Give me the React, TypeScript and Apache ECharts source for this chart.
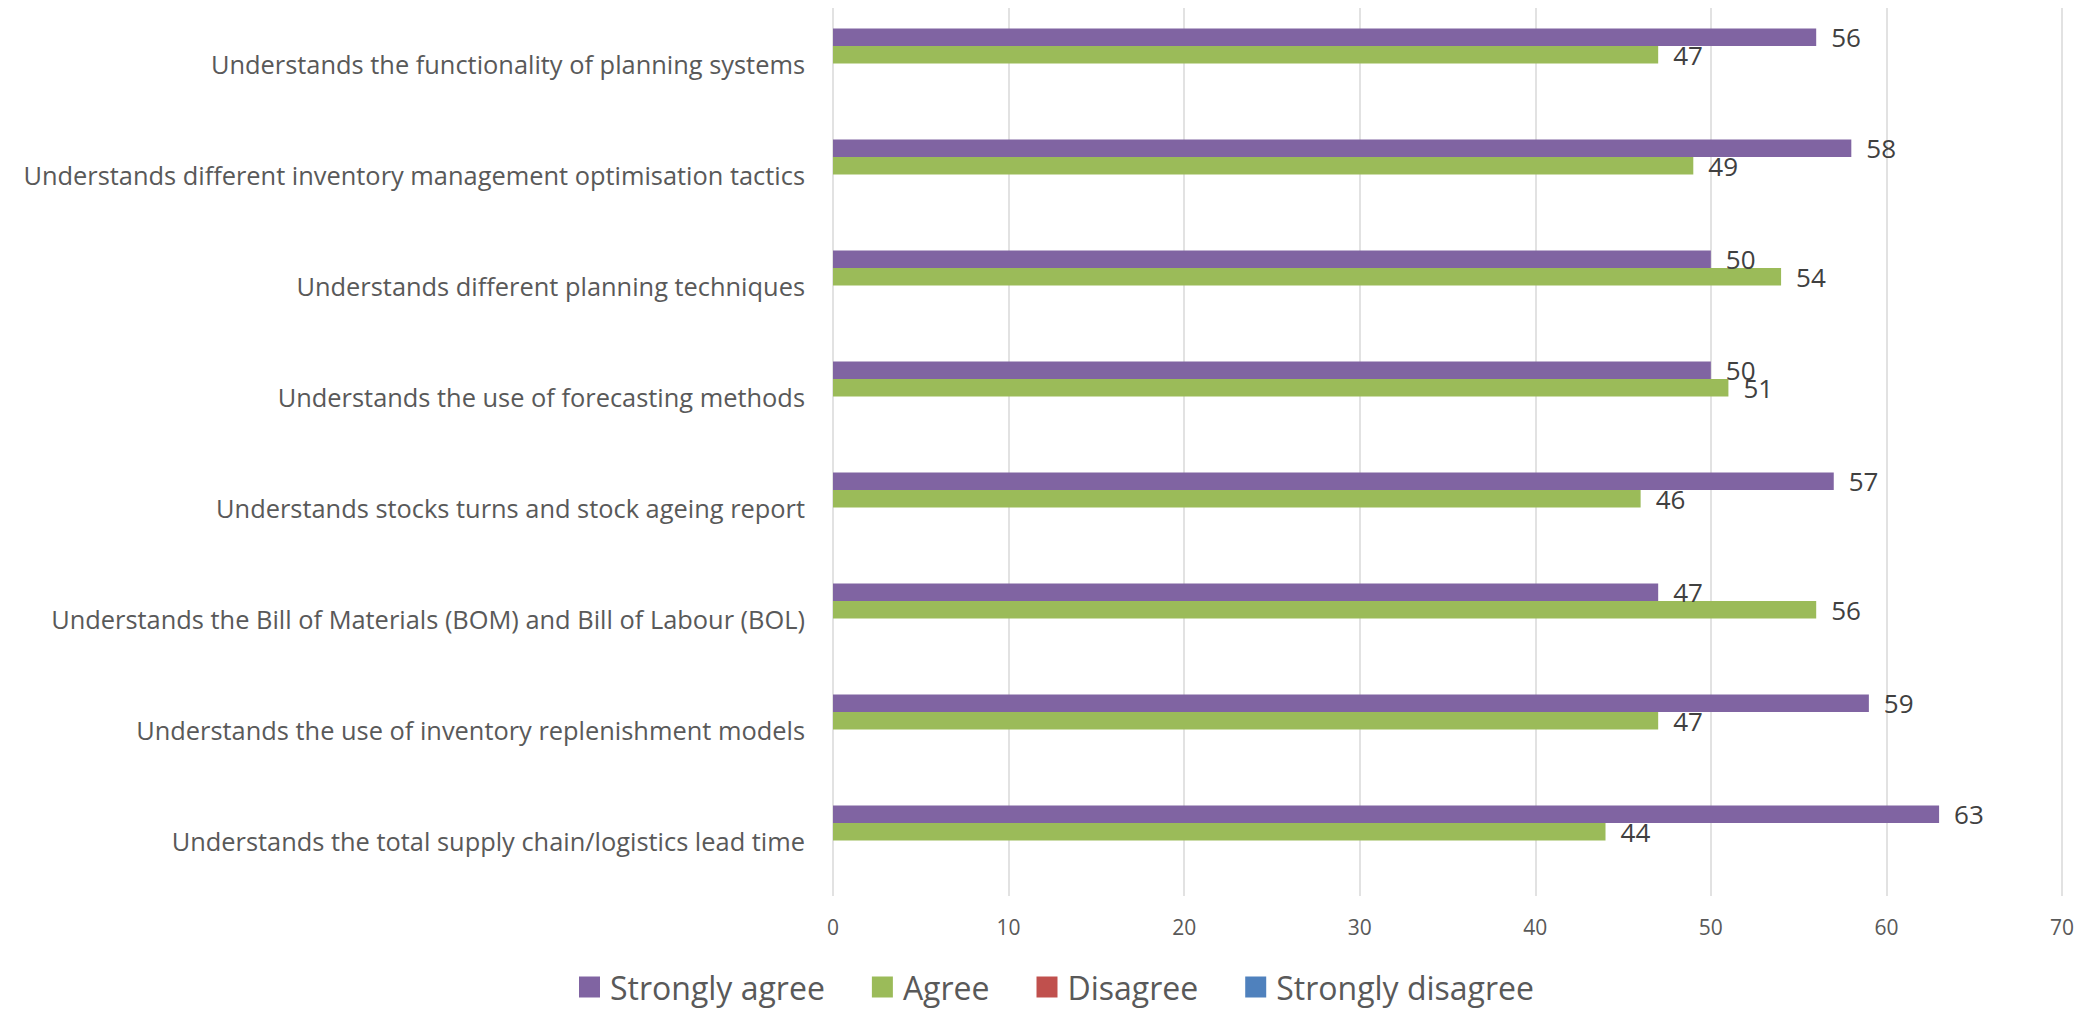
import React, { useEffect, useRef } from "react";
import * as echarts from "echarts";

const categories = [
  "Understands the functionality of planning systems",
  "Understands different inventory management optimisation tactics",
  "Understands different planning techniques",
  "Understands the use of forecasting methods",
  "Understands stocks turns and stock ageing report",
  "Understands the Bill of Materials (BOM) and Bill of Labour (BOL)",
  "Understands the use of inventory replenishment models",
  "Understands the total supply chain/logistics lead time",
];
const stronglyAgree = [56, 58, 50, 50, 57, 47, 59, 63];
const agree = [47, 49, 54, 51, 46, 56, 47, 44];
const disagree: (number | null)[] = [null, null, null, null, null, null, null, null];
const stronglyDisagree: (number | null)[] = [null, null, null, null, null, null, null, null];
const seriesNames = ["Strongly agree", "Agree", "Disagree", "Strongly disagree"];
const colors = ["#8064A2", "#9BBB59", "#C0504D", "#4F81BD"];
const xTicks = { min: 0, max: 70, interval: 10 };

const FONT = "Open Sans";

export default function App() {
  const ref = useRef<HTMLDivElement>(null);
  useEffect(() => {
    if (!ref.current) return;
    const chart = echarts.init(ref.current, null, { renderer: "svg" });
    const seriesData = [stronglyAgree, agree, disagree, stronglyDisagree];
    chart.setOption({
      animation: false,
      textStyle: { fontFamily: FONT },
      grid: { left: 833, right: 28, top: 8, bottom: 113, containLabel: false },
      legend: {
        data: seriesNames,
        left: 574,
        top: 966,
        itemWidth: 21,
        itemHeight: 21,
        itemGap: 47,
        icon: "rect",
        textStyle: { fontFamily: FONT, fontSize: 32, color: "#595959", padding: [0, 0, 0, 5] },
      },
      xAxis: {
        type: "value",
        min: xTicks.min,
        max: xTicks.max,
        interval: xTicks.interval,
        axisLine: { show: false },
        axisTick: { show: false },
        splitLine: { show: true, lineStyle: { color: "#d9d9d9", width: 1.5 } },
        axisLabel: { fontFamily: FONT, fontSize: 21, color: "#595959", margin: 20 },
      },
      yAxis: {
        type: "category",
        inverse: true,
        data: categories,
        axisLine: { show: false },
        axisTick: { show: false },
        axisLabel: { fontFamily: FONT, fontSize: 25.4, color: "#595959", margin: 28 },
      },
      series: seriesNames.map((name, i) => ({
        name,
        type: "bar",
        data: seriesData[i],
        barWidth: 17.5,
        barGap: "0%",
        itemStyle: { color: colors[i] },
        label: {
          show: true,
          position: "right",
          distance: 15,
          fontFamily: FONT,
          fontSize: 26,
          color: "#404040",
        },
      })),
    });
    return () => chart.dispose();
  }, []);
  return (
    <div
      ref={ref}
      style={{ position: "fixed", left: 0, top: 0, width: "2090px", height: "1009px", background: "#fff" }}
    />
  );
}
